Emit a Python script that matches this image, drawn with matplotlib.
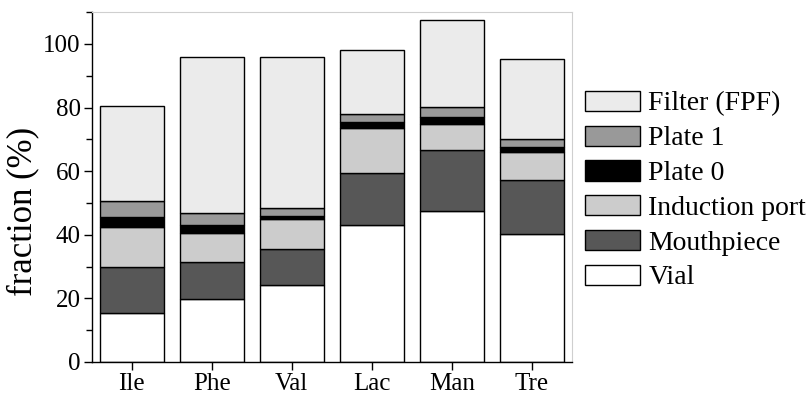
import matplotlib.pyplot as plt
import numpy as np
from matplotlib.ticker import MultipleLocator

# Fracciones depositadas (%) por muestra
muestras = ['Ile', 'Phe', 'Val', 'Lac', 'Man', 'Tre']
vial = [15.5, 19.7, 24.1, 43.2, 47.4, 40.2]
boquilla = [14.5, 11.6, 11.5, 16.3, 19.4, 16.9]
puerto_induccion = [12.3, 9.1, 9.2, 14.2, 8.1, 9.0]
plato0 = [3.2, 2.7, 1.2, 1.7, 2.2, 1.6]
plato1 = [5.1, 3.7, 2.3, 2.6, 3.1, 2.4]
filtro = [29.9, 49.2, 47.5, 20.2, 27.3, 25.1]

etiquetas = ['Vial', 'Mouthpiece', 'Induction port', 'Plate 0', 'Plate 1', 'Filter (FPF)']
colores = ['#ffffff', '#575757', '#cccccc', '#000000', '#999999', '#ebebeb']
series = [vial, boquilla, puerto_induccion, plato0, plato1, filtro]

plt.rcParams['font.family'] = ['Liberation Serif', 'DejaVu Serif']

fig = plt.figure(figsize=(8.12, 3.98), dpi=100)
ax = fig.add_axes([0.113, 0.0905, 0.591, 0.879])

x = np.arange(len(muestras))
base = np.zeros(len(muestras))
barras = []
for valores, color, etiqueta in zip(series, colores, etiquetas):
    b = ax.bar(x, valores, width=0.8, bottom=base, color=color,
               edgecolor='black', linewidth=1.0, label=etiqueta)
    barras.append(b)
    base += np.array(valores)

ax.set_xlim(-0.5, 5.5)
ax.set_ylim(0, 110)
ax.set_xticks(x)
ax.set_xticklabels(muestras)
ax.yaxis.set_major_locator(MultipleLocator(20))
ax.yaxis.set_minor_locator(MultipleLocator(10))
ax.tick_params(axis='both', which='major', direction='out', length=6, width=1,
               labelsize=18, pad=2)
ax.tick_params(axis='y', which='minor', direction='out', length=4, width=1)

ax.set_ylabel('fraction (%)', fontsize=25)
ax.yaxis.set_label_coords(-0.11, 0.43)

# Marco: ejes izquierdo e inferior negros, superior y derecho gris claro
for lado in ['top', 'right']:
    ax.spines[lado].set_color('#cfcfcf')
for lado in ['left', 'bottom']:
    ax.spines[lado].set_color('black')
    ax.spines[lado].set_linewidth(1.0)

# Leyenda en orden inverso al apilado
handles = barras[::-1]
ax.legend(handles, etiquetas[::-1], loc='center left', bbox_to_anchor=(1.027, 0.49),
          frameon=False, fontsize=20, handlelength=2.0, handleheight=0.75,
          handletextpad=0.29, labelspacing=0.32, borderaxespad=0, borderpad=0)

fig.savefig('out.png', dpi=100)
plt.close(fig)
